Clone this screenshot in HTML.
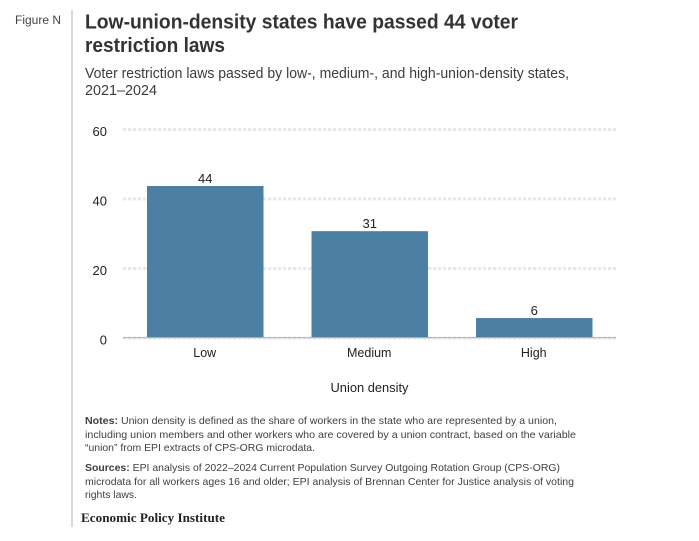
<!DOCTYPE html>
<html lang="en">
<head>
<meta charset="utf-8">
<title>Low-union-density states have passed 44 voter restriction laws</title>
<style>
html,body{margin:0;padding:0;background:#fff;width:699px;height:541px;overflow:hidden}
svg{display:block}
text{font-family:"Liberation Sans",Arial,sans-serif}
.title{font-size:20px;font-weight:700;fill:#333}
.sub{font-size:14.5px;fill:#3c3c3c}
.note{font-size:10.5px;fill:#3f3f3f}
.tick{font-size:13px;fill:#222}
</style>
</head>
<body>
<svg id="chart" width="699" height="541" viewBox="0 0 699 541" xmlns="http://www.w3.org/2000/svg">
  <rect x="71" y="10" width="2" height="517" fill="#d9d9d9"/>
  <text x="15" y="24" font-size="11.5" fill="#444" textLength="46" lengthAdjust="spacingAndGlyphs">Figure N</text>
  <text class="title" x="85" y="28.5" textLength="433" lengthAdjust="spacingAndGlyphs">Low-union-density states have passed 44 voter</text>
  <text class="title" x="85" y="52" textLength="140" lengthAdjust="spacingAndGlyphs">restriction laws</text>
  <text class="sub" x="85" y="78" textLength="484" lengthAdjust="spacingAndGlyphs">Voter restriction laws passed by low-, medium-, and high-union-density states,</text>
  <text class="sub" x="85" y="95" textLength="72" lengthAdjust="spacingAndGlyphs">2021–2024</text>
  <g id="grid"></g>
  <g id="bars"></g>
  <g id="axis"></g>
  <g id="xaxis"></g>
  <text class="tick" x="369.5" y="392" text-anchor="middle" font-size="12.5" textLength="78" lengthAdjust="spacingAndGlyphs">Union density</text>
  <g>
    <text class="note" x="85" y="424" textLength="472" lengthAdjust="spacingAndGlyphs"><tspan font-weight="700">Notes:</tspan> Union density is defined as the share of workers in the state who are represented by a union,</text>
    <text class="note" x="85" y="438" textLength="491" lengthAdjust="spacingAndGlyphs">including union members and other workers who are covered by a union contract, based on the variable</text>
    <text class="note" x="85" y="451" textLength="230" lengthAdjust="spacingAndGlyphs">“union” from EPI extracts of CPS-ORG microdata.</text>
  </g>
  <g>
    <text class="note" x="85" y="471" textLength="475" lengthAdjust="spacingAndGlyphs"><tspan font-weight="700">Sources:</tspan> EPI analysis of 2022–2024 Current Population Survey Outgoing Rotation Group (CPS-ORG)</text>
    <text class="note" x="85" y="485" textLength="489" lengthAdjust="spacingAndGlyphs">microdata for all workers ages 16 and older; EPI analysis of Brennan Center for Justice analysis of voting</text>
    <text class="note" x="85" y="498" textLength="52" lengthAdjust="spacingAndGlyphs">rights laws.</text>
  </g>
  <text x="81" y="522" font-size="12.5" font-weight="700" fill="#222" style="font-family:'Liberation Serif',serif" textLength="144" lengthAdjust="spacingAndGlyphs">Economic Policy Institute</text>
</svg>
<script>
const categories = ['Low', 'Medium', 'High'];
const values = [44, 31, 6];
const yTicks = [0, 20, 40, 60];

const NS = 'http://www.w3.org/2000/svg';
const plotLeft = 123, plotRight = 616, y0 = 338, y60 = 129.5, yMax = 60;
const baseY = 337.7, barTopNudge = 0.9;
const bandStart = 123, bandStep = 164.5, barWidth = 116.5;
const yScale = v => y0 - (v / yMax) * (y0 - y60);
const xBand = i => bandStart + bandStep * i + (bandStep - barWidth) / 2;

function make(tag, attrs, parent, txt) {
  const el = document.createElementNS(NS, tag);
  for (const k in attrs) el.setAttribute(k, attrs[k]);
  if (txt !== undefined) el.textContent = txt;
  parent.appendChild(el);
  return el;
}

const gridG = document.getElementById('grid');
const axisG = document.getElementById('axis');
const barsG = document.getElementById('bars');
const xG = document.getElementById('xaxis');

yTicks.forEach(t => {
  const y = yScale(t);
  const line = make('line', {x1: plotLeft, x2: plotRight, y1: y, y2: y, stroke: '#e8e8e8', 'stroke-width': 3, 'stroke-dasharray': '3.3 1.7'}, gridG);
  
  
  const lab = make('text', {x: 107, y: y + 6.5, 'text-anchor': 'end', class: 'tick'}, axisG, String(t));
  
  
});

values.forEach((v, i) => {
  const x = xBand(i), y = yScale(v) + barTopNudge;
  const bar = make('rect', {x: x, y: y, width: barWidth, height: baseY - y, fill: '#4c80a3'}, barsG);
  
  
  const val = make('text', {x: x + barWidth / 2, y: y - 3, 'text-anchor': 'middle', class: 'tick'}, barsG, String(v));
  
  
  const cat = make('text', {x: x + barWidth / 2 - 0.5, y: 357, 'text-anchor': 'middle', class: 'tick'}, xG, categories[i]);
  cat.style.fontSize = '12.5px';
  
  
});

const baseline = make('line', {x1: plotLeft, x2: plotRight, y1: baseY, y2: baseY, stroke: '#b5b5b5', 'stroke-width': 1.2}, xG);


</script>
</body>
</html>
